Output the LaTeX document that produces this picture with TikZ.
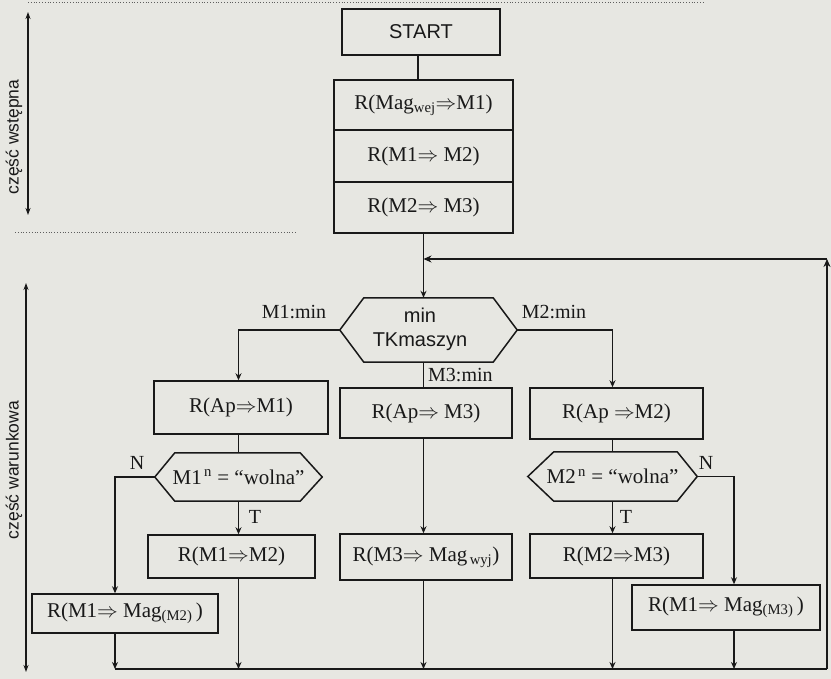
\documentclass[tikz,border=0pt]{standalone}
\usepackage{fontspec}
\setmainfont{Liberation Serif}
\newfontfamily\arialf{Liberation Sans}
\usetikzlibrary{arrows.meta}
\definecolor{bg}{RGB}{231,231,226}
\definecolor{ink}{RGB}{25,25,25}
\begin{document}
\begin{tikzpicture}[x=1pt,y=-1pt,
  box/.style={draw=ink,line width=1.5pt,inner sep=0pt,text=ink,font=\fontsize{21}{24}\selectfont},
  sbox/.style={box,font=\arialf\fontsize{20}{23}\selectfont},
  hexn/.style={inner sep=0pt,text=ink,align=center,font=\fontsize{21}{24}\selectfont},
  lbl/.style={text=ink,inner sep=0pt,font=\fontsize{20}{23}\selectfont},
  flow/.style={draw=ink,line width=1.5pt},
  arr/.style={flow,-{Stealth[length=7pt,width=6pt]}},
  loopline/.style={draw=ink,line width=2.2pt},
  looparr/.style={loopline,-{Stealth[length=8pt,width=7pt]}},
  axis/.style={draw=ink,line width=1.1pt,{Stealth[length=7pt,width=5pt]}-{Stealth[length=7pt,width=5pt]}},
  sidetxt/.style={rotate=90,text=ink,inner sep=0pt,font=\arialf\fontsize{17.5}{20}\selectfont},
  dots/.style={draw=ink!70,line width=0.8pt,dotted}]
\fill[bg] (0,0) rectangle (831,679);
\useasboundingbox (0,0) rectangle (831,679);

% side annotations
\coordinate (d1a) at (28,2);  \coordinate (d1b) at (703,2);
\coordinate (d2a) at (15,232); \coordinate (d2b) at (297,232);
\draw[dots] (d1a) -- (d1b);
\draw[dots] (d2a) -- (d2b);
\coordinate (ax1t) at (28,12); \coordinate (ax1b) at (28,215);
\coordinate (ax2t) at (26,283); \coordinate (ax2b) at (26,672);
\draw[axis] (ax1t) -- (ax1b);
\draw[axis] (ax2t) -- (ax2b);
\node[sidetxt] (wst) at (14,137) {część wstępna};
\node[sidetxt] (war) at (14,470) {część warunkowa};

% initial part
\node[sbox,minimum width=158,minimum height=46] (start) at (421,32) {START};
\node[box,minimum width=179,minimum height=50] (b1) at (423.5,105) {R(Mag\textsubscript{wej}$\Rightarrow$M1)};
\node[box,minimum width=179,minimum height=52] (b2) at (423.5,156) {R(M1$\Rightarrow$\ M2)};
\node[box,minimum width=179,minimum height=51] (b3) at (423.5,207.5) {R(M2$\Rightarrow$\ M3)};
\draw[flow] (start.south -| 418,0) -- (b1.north -| 418,0);

% main decision
\node[hexn,minimum width=177,minimum height=64] (hexA) at (428.5,330) {};
\node[hexn,font=\arialf\fontsize{20}{24}\selectfont] (hexAt) at (420,329) {min\\TKmaszyn};
\draw[flow] ([xshift=24]hexA.north west) -- ([xshift=-24]hexA.north east) -- (hexA.east)
  -- ([xshift=-24]hexA.south east) -- ([xshift=24]hexA.south west) -- (hexA.west) -- cycle;
\coordinate (join) at (423.5,259);
\coordinate (tr) at (827,259);
\coordinate (br) at (827,669);
\coordinate (bl) at (115,669);
\draw[arr] (b3.south) -- (b3.south |- hexA.north);

\node[lbl] (m1l) at (294,312) {M1:min};
\node[lbl] (m2l) at (554,312) {M2:min};
\node[lbl,anchor=west] (m3l) at (428,375) {M3:min};

% second row
\node[box,minimum width=174,minimum height=53] (a1) at (241,407.5) {R(Ap$\Rightarrow$M1)};
\node[box,minimum width=172,minimum height=50] (a3) at (426,413) {R(Ap$\Rightarrow$ M3)};
\node[box,minimum width=173,minimum height=51] (a2) at (616.5,413.5) {R(Ap $\Rightarrow$M2)};

% decisions
\node[hexn,minimum width=167,minimum height=48] (d1) at (238.5,477) {M1\textsuperscript{\,n} = “wolna”};
\draw[flow] ([xshift=20]d1.north west) -- ([xshift=-22]d1.north east) -- (d1.east)
  -- ([xshift=-22]d1.south east) -- ([xshift=20]d1.south west) -- (d1.west) -- cycle;
\node[hexn,minimum width=169,minimum height=49] (d2) at (612.5,476.5) {M2\textsuperscript{\,n} = “wolna”};
\draw[flow] ([xshift=26]d2.north west) -- ([xshift=-20]d2.north east) -- (d2.east)
  -- ([xshift=-20]d2.south east) -- ([xshift=26]d2.south west) -- (d2.west) -- cycle;

\node[lbl] (n1) at (137,463) {N};
\node[lbl] (t1) at (255,517) {T};
\node[lbl] (n2) at (706,463) {N};
\node[lbl] (t2) at (626,517) {T};

% action boxes
\node[box,minimum width=167,minimum height=43] (e1) at (231.5,556.5) {R(M1$\Rightarrow$M2)};
\node[box,minimum width=172,minimum height=46] (e3) at (426,557) {R(M3$\Rightarrow$ Mag\textsubscript{\,wyj})};
\node[box,minimum width=173,minimum height=44] (e2) at (616.5,556) {R(M2$\Rightarrow$M3)};
\node[box,minimum width=186,minimum height=39] (c1) at (125,613.5) {R(M1$\Rightarrow$ Mag\textsubscript{(M2)}\,)};
\node[box,minimum width=188,minimum height=45] (c2) at (726,607.5) {R(M1$\Rightarrow$ Mag\textsubscript{(M3)}\,)};

% branches from main decision
\draw[arr] (hexA.west) -| (d1.north |- a1.north);
\draw[arr] (hexA.east) -| (d2.north |- a2.north);
\draw[flow] (b3.south |- hexA.south) -- (b3.south |- a3.north);

% column links
\draw[flow] (d1.north |- a1.south) -- (d1.north);
\draw[flow] (d2.north |- a2.south) -- (d2.north);
\draw[arr] (d1.south) -- (d1.south |- e1.north);
\draw[arr] (d2.south) -- (d2.south |- e2.north);
\draw[arr] (d1.west) -| ([xshift=-10]c1.north);
\draw[arr] (d2.east) -| ([xshift=8]c2.north);
\draw[arr] (b3.south |- a3.south) -- (b3.south |- e3.north);

% into bottom line
\draw[arr] ([xshift=-10]c1.south) -- ([xshift=-10]c1.south |- bl);
\draw[arr] (d1.south |- e1.south) -- (d1.south |- bl);
\draw[arr] (b3.south |- e3.south) -- (b3.south |- bl);
\draw[arr] (d2.south |- e2.south) -- (d2.south |- bl);
\draw[arr] ([xshift=8]c2.south) -- ([xshift=8]c2.south |- bl);

% loop back
\draw[loopline] (bl) -- (br);
\draw[looparr] (br) -- (tr);
\draw[looparr] (tr) -- (join);
\end{tikzpicture}
\end{document}
